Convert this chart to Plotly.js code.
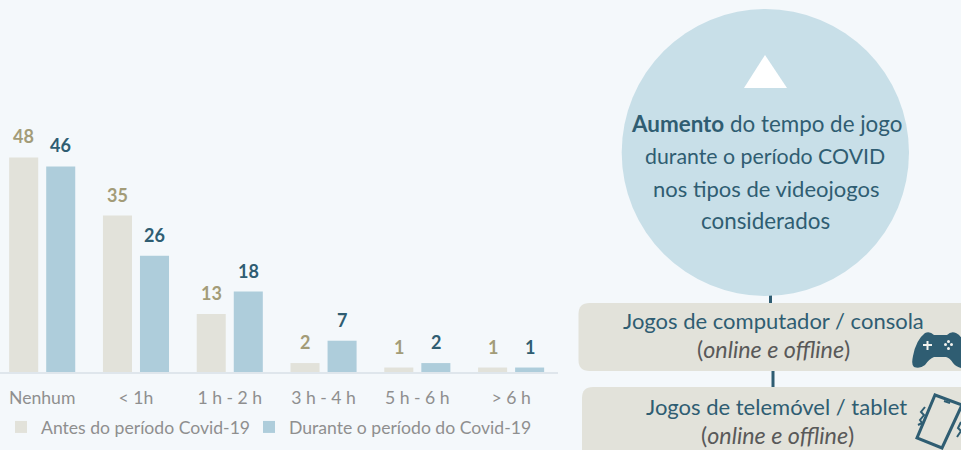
<!DOCTYPE html>
<html><head><meta charset="utf-8">
<script src="https://cdn.plot.ly/plotly-3.0.1.min.js"></script>
<style>html,body{margin:0;padding:0;background:#f4f8fb}#c{width:961px;height:450px}</style>
</head><body><div id="c"></div>
<script>
const categories = ["Nenhum", "< 1h", "1 h - 2 h", "3 h - 4 h", "5 h - 6 h", "> 6 h"];
const antes = [48, 35, 13, 2, 1, 1];
const durante = [46, 26, 18, 7, 2, 1];
const nameAntes = "Antes do período Covid-19";
const nameDurante = "Durante o período do Covid-19";

const W = 961, H = 450;
const FONT = "Lato, 'Open Sans', sans-serif";
const DARK = "#2f5d72", GREYTXT = "#8f8f8f", SAND = "#e2e2da", BLUE = "#aecddb", CIRCLE = "#c8dfe8";
const idx = categories.map((_, i) => i);

const traces = [
  {type: "bar", name: nameAntes, x: idx, y: antes, marker: {color: SAND}, cliponaxis: false, hoverinfo: "y", legend: "legend"},
  {type: "bar", name: nameDurante, x: idx, y: durante, marker: {color: BLUE}, cliponaxis: false, hoverinfo: "y", legend: "legend2"}
];

const OFFSET = 0.197;
const valueLabels = [];
idx.forEach(i => {
  valueLabels.push({xref: "x", yref: "y", x: i - OFFSET, y: antes[i], yshift: 21, text: "<b>" + antes[i] + "</b>",
    showarrow: false, font: {family: FONT, size: 18, color: "#a39c78"}});
  valueLabels.push({xref: "x", yref: "y", x: i + OFFSET, y: durante[i], yshift: 21, text: "<b>" + durante[i] + "</b>",
    showarrow: false, font: {family: FONT, size: 18, color: DARK}});
});

function note(x, y, text, size, color) {
  return {xref: "x2", yref: "y2", x, y, text, showarrow: false, xanchor: "center", yanchor: "middle",
    font: {family: FONT, size, color}};
}
const sideText = [
  note(766, 123, "<b>Aumento</b> do tempo de jogo", 22.4, DARK),
  note(765, 156, "durante o período COVID", 21.3, DARK),
  note(766, 188, "nos tipos de videojogos", 22, DARK),
  note(765, 220, "considerados", 22.4, DARK),
  note(773, 320, "Jogos de computador / consola", 22, DARK),
  note(773, 349, "(<i>online e offline</i>)", 23.3, "#595959"),
  note(776, 406, "Jogos de telemóvel / tablet", 22, DARK),
  note(777, 435, "(<i>online e offline</i>)", 23.3, "#595959")
];

function roundedBox(x0, y0, x1, y1, r) {
  return `M${x0 + r},${y0} L${x1 - r},${y0} Q${x1},${y0} ${x1},${y0 + r} L${x1},${y1 - r} Q${x1},${y1} ${x1 - r},${y1} L${x0 + r},${y1} Q${x0},${y1} ${x0},${y1 - r} L${x0},${y0 + r} Q${x0},${y0} ${x0 + r},${y0} Z`;
}
const deco = (o) => Object.assign({xref: "x2", yref: "y2", line: {width: 0}}, o);
const shapes = [
  deco({type: "line", x0: 770.5, x1: 770.5, y0: 290, y1: 304, line: {color: DARK, width: 3}, layer: "below"}),
  deco({type: "line", x0: 773, x1: 773, y0: 371, y1: 388, line: {color: DARK, width: 3}, layer: "below"}),
  deco({type: "circle", x0: 621.7, x1: 909, y0: 9, y1: 296, fillcolor: CIRCLE}),
  deco({type: "path", path: "M765,55 L787,88 L744,88 Z", fillcolor: "#ffffff"}),
  deco({type: "path", path: roundedBox(578.5, 303, 985, 371, 11), fillcolor: SAND}),
  deco({type: "path", path: roundedBox(582, 387, 985, 475, 11), fillcolor: SAND}),
  // gamepad
  deco({type: "path", fillcolor: DARK, path: "M925,333 Q930,331 934,335 L947,335 Q951,331 956,333 Q961,335 963,342 L965,368 Q958,369 953,363 Q950,358 946,357 L934,357 Q929,359 925,365 Q920,369 914,367 Q911,365 913,356 Q916,340 925,333 Z"}),
  deco({type: "path", path: "M923,345 H932 M927.5,341 V350", line: {color: "#f2f2ee", width: 2}}),
  deco({type: "circle", x0: 944, x1: 947, y0: 343, y1: 346, fillcolor: "#f2f2ee"}),
  deco({type: "circle", x0: 950, x1: 953, y0: 343, y1: 346, fillcolor: "#f2f2ee"}),
  deco({type: "circle", x0: 947, x1: 950, y0: 340, y1: 343, fillcolor: "#f2f2ee"}),
  deco({type: "circle", x0: 947, x1: 950, y0: 347, y1: 350, fillcolor: "#f2f2ee"}),
  // phone
  deco({type: "path", path: "M935,395 L962,405 L942,448 L917,438 Z", fillcolor: "rgba(0,0,0,0)", line: {color: DARK, width: 3}}),
  deco({type: "path", path: "M944,401 L950,403", line: {color: DARK, width: 2}}),
  deco({type: "path", path: "M925,407 L921,412 L924,415 L920,420 L922,423 L918,425", line: {color: DARK, width: 2}}),
  deco({type: "path", path: "M961,422 L958,428 L961,431 L957,437", line: {color: DARK, width: 2}})
];

const legendStyle = {orientation: "h", y: 1 - 409 / H, xanchor: "left", yanchor: "top",
  font: {family: FONT, size: 17.6, color: GREYTXT}, bgcolor: "rgba(0,0,0,0)", itemclick: false, itemdoubleclick: false};

const layout = {
  width: W, height: H,
  margin: {l: 0, r: 0, t: 0, b: 0},
  paper_bgcolor: "#f4f8fb", plot_bgcolor: "rgba(0,0,0,0)",
  barmode: "group", bargap: 0.21, bargroupgap: 0.216,
  showlegend: true,
  legend: Object.assign({x: 1 / W}, legendStyle),
  legend2: Object.assign({x: 249 / W}, legendStyle),
  xaxis: {domain: [0, 558 / W], range: [-0.45, 5.5], tickmode: "array", tickvals: idx, ticktext: categories,
    ticks: "outside", ticklen: 9, tickcolor: "rgba(0,0,0,0)", showgrid: false, zeroline: false,
    showline: true, linecolor: "#dfe6ec", linewidth: 2, tickfont: {family: FONT, size: 17.6, color: GREYTXT}},
  yaxis: {domain: [1 - 372 / H, 1], range: [0, 372 / 4.47], visible: false, showgrid: false, zeroline: false},
  xaxis2: {domain: [0, 1], range: [0, W], anchor: "y2", visible: false, fixedrange: true},
  yaxis2: {domain: [0, 1], range: [H, 0], anchor: "x2", visible: false, fixedrange: true},
  shapes,
  annotations: valueLabels.concat(sideText)
};
Plotly.newPlot("c", traces, layout, {displayModeBar: false});
</script></body></html>
